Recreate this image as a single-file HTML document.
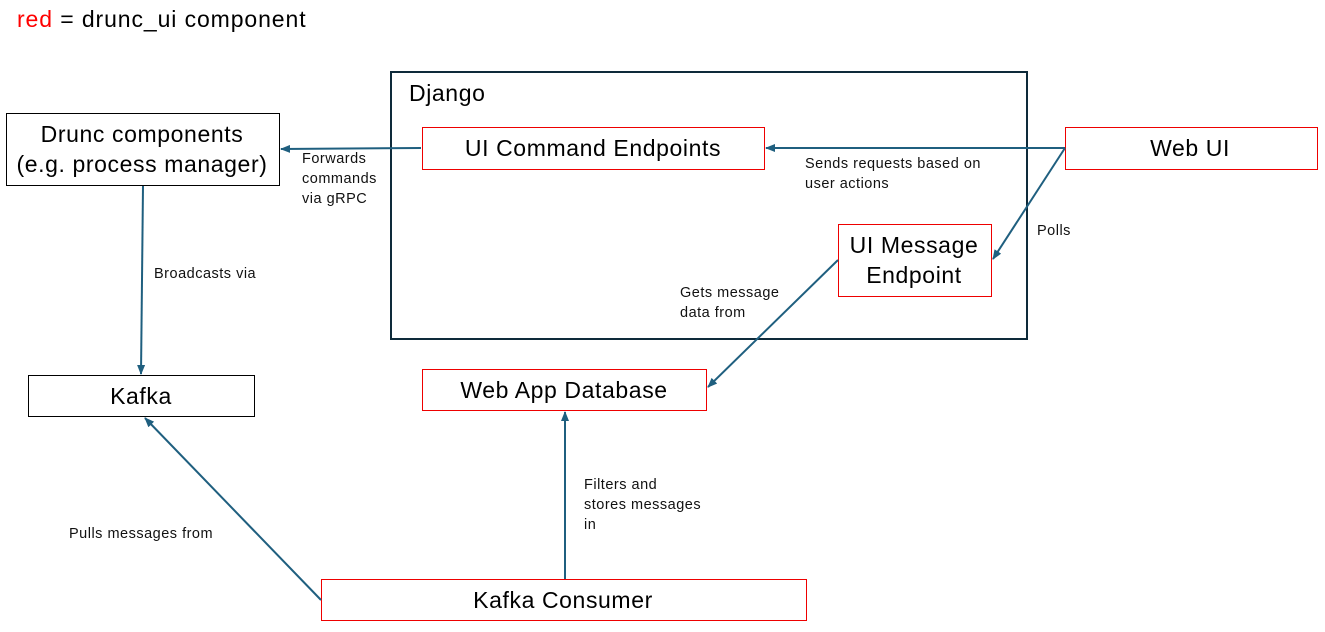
<!DOCTYPE html>
<html><head><meta charset="utf-8"><style>
html,body{margin:0;padding:0;background:#fff;}
svg{display:block;font-family:"Liberation Sans",sans-serif;}
.b{font-size:23px;fill:#000;letter-spacing:0.6px;}
.s{font-size:14.5px;fill:#111;letter-spacing:0.5px;}
</style></head><body>
<svg width="1325" height="632" viewBox="0 0 1325 632">
<defs><marker id="a" markerWidth="10" markerHeight="8" refX="9" refY="4" orient="auto" markerUnits="userSpaceOnUse"><path d="M0,0 L10,4 L0,8 z" fill="#1f5f7f"/></marker></defs>
<text x="17" y="27" class="b" style="letter-spacing:0.9px"><tspan fill="#ff0000">red</tspan> = drunc_ui component</text>
<rect x="391" y="72" width="636" height="267" fill="none" stroke="#0e2a3a" stroke-width="2"/>
<text x="409" y="101" class="b">Django</text>
<rect x="6.5" y="113.5" width="273" height="72" fill="#fff" stroke="#000"/>
<text x="142" y="142" class="b" text-anchor="middle">Drunc components</text>
<text x="142" y="172" class="b" text-anchor="middle">(e.g. process manager)</text>
<rect x="422.5" y="127.5" width="342" height="42" fill="#fff" stroke="#e00"/>
<text x="593" y="156" class="b" text-anchor="middle">UI Command Endpoints</text>
<rect x="1065.5" y="127.5" width="252" height="42" fill="#fff" stroke="#e00"/>
<text x="1190" y="156" class="b" text-anchor="middle">Web UI</text>
<rect x="838.5" y="224.5" width="153" height="72" fill="#fff" stroke="#e00"/>
<text x="914" y="253" class="b" text-anchor="middle">UI Message</text>
<text x="914" y="283" class="b" text-anchor="middle">Endpoint</text>
<rect x="28.5" y="375.5" width="226" height="41" fill="#fff" stroke="#000"/>
<text x="141" y="404" class="b" text-anchor="middle">Kafka</text>
<rect x="422.5" y="369.5" width="284" height="41" fill="#fff" stroke="#e00"/>
<text x="564" y="398" class="b" text-anchor="middle">Web App Database</text>
<rect x="321.5" y="579.5" width="485" height="41" fill="#fff" stroke="#e00"/>
<text x="563" y="608" class="b" text-anchor="middle">Kafka Consumer</text>
<g stroke="#1f5f7f" stroke-width="2" fill="none" marker-end="url(#a)">
<line x1="421" y1="148" x2="281" y2="149"/>
<line x1="1065" y1="148" x2="766" y2="148"/>
<line x1="1065" y1="148" x2="993" y2="259"/>
<line x1="838" y1="260" x2="708" y2="387"/>
<line x1="143" y1="186" x2="141" y2="374"/>
<line x1="321" y1="600" x2="145" y2="418"/>
<line x1="565" y1="579" x2="565" y2="412"/>
</g>
<text class="s" x="302" y="163">Forwards</text>
<text class="s" x="302" y="183">commands</text>
<text class="s" x="302" y="203">via gRPC</text>
<text class="s" x="805" y="168">Sends requests based on</text>
<text class="s" x="805" y="188">user actions</text>
<text class="s" x="1037" y="235">Polls</text>
<text class="s" x="154" y="278">Broadcasts via</text>
<text class="s" x="680" y="297">Gets message</text>
<text class="s" x="680" y="317">data from</text>
<text class="s" x="584" y="489">Filters and</text>
<text class="s" x="584" y="509">stores messages</text>
<text class="s" x="584" y="529">in</text>
<text class="s" x="69" y="538">Pulls messages from</text>
</svg>
</body></html>
